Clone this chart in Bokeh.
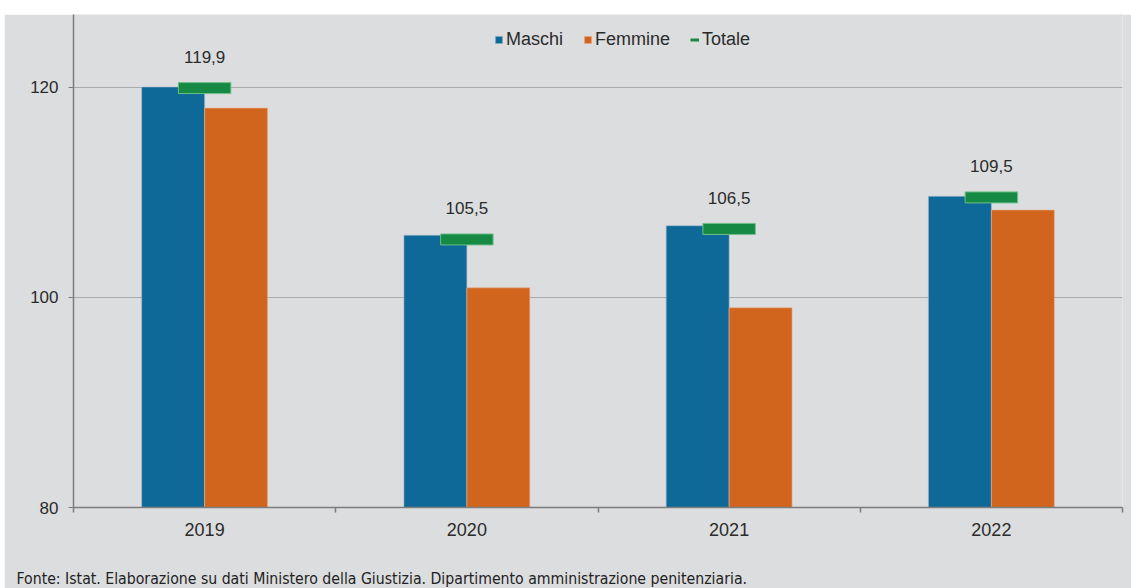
from bokeh.plotting import figure
from bokeh.models import (FactorRange, Range1d, LinearAxis, FixedTicker, Legend,
                          LegendItem, Title, ColumnDataSource, Spacer)
from bokeh.transform import dodge
from bokeh.core.properties import value
from bokeh.layouts import column, row
from bokeh.embed import file_html
from bokeh.resources import INLINE

# ---- data ----
years = ["2019", "2020", "2021", "2022"]
maschi = [120.0, 105.9, 106.8, 109.6]
femmine = [118.0, 100.9, 99.0, 108.3]
totale = [119.9, 105.5, 106.5, 109.5]
totale_labels = ["119,9", "105,5", "106,5", "109,5"]
y_ticks = [80, 100, 120]
source_note = "Fonte: Istat. Elaborazione su dati Ministero della Giustizia. Dipartimento amministrazione penitenziaria."

BG = "#dcdddf"
BLUE = "#0e6898"
ORANGE = "#d2651d"
GREEN = "#168a45"
TEXT = "#2b2b2b"
AXIS = "#7d7d7d"
FONT = "Liberation Sans"

src = ColumnDataSource(dict(year=years, maschi=maschi, femmine=femmine,
                            totale=totale, lab=totale_labels))

p = figure(width=1127, height=574, output_backend="svg", toolbar_location=None,
           x_range=FactorRange(factors=years, range_padding=0),
           y_range=Range1d(80, 126.9), x_axis_type=None,
           min_border_left=69, min_border_right=9, min_border_top=0,
           min_border_bottom=79)
p.background_fill_color = BG
p.border_fill_color = BG
p.outline_line_color = None

# bars
r_m = p.vbar(x=dodge("year", -0.12, range=p.x_range), top="maschi", bottom=80,
             width=0.24, source=src, fill_color=BLUE, line_color="#9fb9c8",
             line_alpha=0.6, line_width=1)
r_f = p.vbar(x=dodge("year", 0.12, range=p.x_range), top="femmine", bottom=80,
             width=0.24, source=src, fill_color=ORANGE, line_color="#e8b090",
             line_alpha=0.6, line_width=1)
r_t = p.rect(x="year", y="totale", width=0.2, height=11, height_units="screen",
             source=src, fill_color=GREEN, line_color="#6fbf8a", line_width=1)
r_tl = p.line(x=years[:2], y=[float("nan"), float("nan")], line_color=GREEN,
              line_width=3)

p.text(x="year", y="totale", text="lab", source=src, y_offset=-31,
       text_align="center", text_baseline="middle", text_font=value(FONT),
       text_font_size="17px", text_color=TEXT)

# x axis: labels at category centres, ticks at category boundaries
xt = FixedTicker(ticks=[i + 0.5 for i in range(len(years))],
                 minor_ticks=list(range(len(years) + 1)))
xaxis = LinearAxis(ticker=xt,
                   major_label_overrides={i + 0.5: y for i, y in enumerate(years)})
xaxis.major_tick_line_color = None
xaxis.major_tick_out = 0
xaxis.major_tick_in = 0
xaxis.minor_tick_out = 5
xaxis.minor_tick_in = 0
xaxis.minor_tick_line_color = AXIS
xaxis.minor_tick_line_width = 1.5
xaxis.axis_line_color = AXIS
xaxis.axis_line_width = 1.5
xaxis.major_label_standoff = 10
xaxis.major_label_text_font = FONT
xaxis.major_label_text_font_size = "18px"
xaxis.major_label_text_color = TEXT
# blank axis label only reserves room so the source note sits lower
xaxis.axis_label = " "
xaxis.axis_label_standoff = 7
xaxis.axis_label_text_font_size = "16px"
p.add_layout(xaxis, "below")

# source note below the axis
note = Title(text=source_note, align="left", offset=-57, standoff=2,
             text_font="'DejaVu Sans Condensed', 'Liberation Sans', sans-serif",
             text_font_size="15.7px",
             text_font_style="normal", text_color="#222222")
p.add_layout(note, "below")

# y axis
p.yaxis.ticker = FixedTicker(ticks=y_ticks, minor_ticks=[])
p.yaxis.axis_line_color = AXIS
p.yaxis.axis_line_width = 1.5
p.yaxis.major_tick_line_color = AXIS
p.yaxis.major_tick_out = 5
p.yaxis.major_tick_in = 0
p.yaxis.minor_tick_line_color = None
p.yaxis.major_label_standoff = 10
p.yaxis.major_label_text_font = FONT
p.yaxis.major_label_text_font_size = "17px"
p.yaxis.major_label_text_color = TEXT

p.xgrid.grid_line_color = None
p.ygrid.ticker = FixedTicker(ticks=y_ticks, minor_ticks=[])
p.ygrid.grid_line_color = "#ababab"
p.ygrid.grid_line_width = 1

legend = Legend(items=[LegendItem(label="Maschi", renderers=[r_m]),
                       LegendItem(label="Femmine", renderers=[r_f]),
                       LegendItem(label="Totale", renderers=[r_tl])],
                orientation="horizontal", location=(421, 457),
                padding=0, margin=0, spacing=20, glyph_width=9, glyph_height=9,
                label_standoff=3, label_height=20,
                background_fill_alpha=0, border_line_color=None,
                label_text_font=FONT, label_text_font_size="18px",
                label_text_color=TEXT)
p.add_layout(legend, "center")

layout = column(Spacer(height=14, width=1131),
                row(Spacer(width=4, height=574), p, spacing=0), spacing=0)
open("out.html", "w").write(file_html(layout, INLINE))
